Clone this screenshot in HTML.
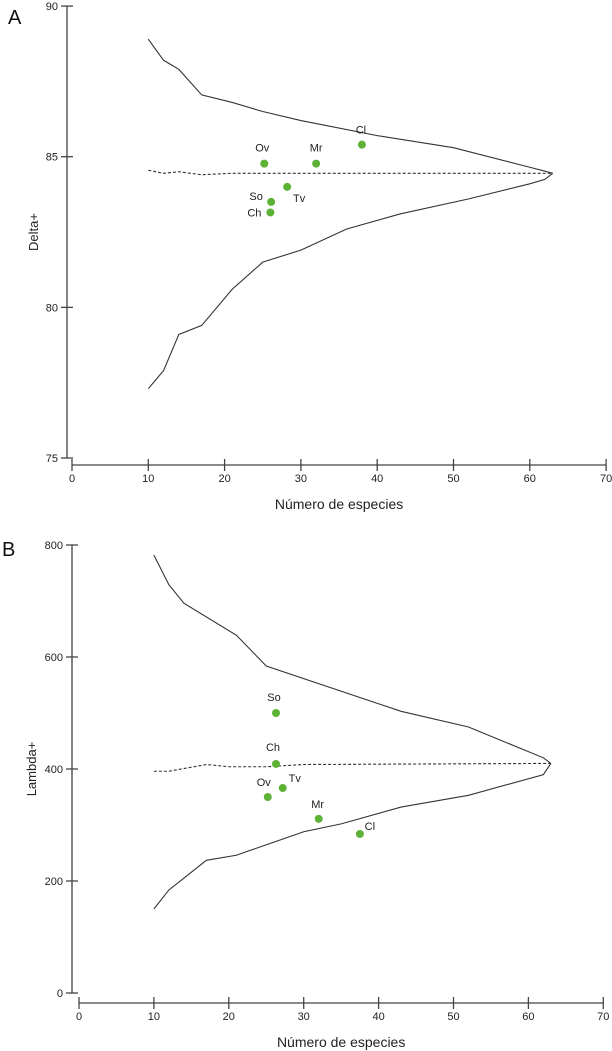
<!DOCTYPE html>
<html><head><meta charset="utf-8"><style>
html,body{margin:0;padding:0;background:#fff;}
svg{display:block;font-family:"Liberation Sans",Arial,sans-serif;}
</style></head><body>
<svg id="chart" width="612" height="1051" viewBox="0 0 612 1051"></svg>
<script>
// Panel A data
const aUpperX=[10,12,14,17,21,25,30,40,50,60,62,63];
const aUpperY=[88.9,88.2,87.9,87.05,86.8,86.5,86.2,85.7,85.3,84.65,84.52,84.45];
const aLowerX=[10,12,14,17,21,25,30,36,43,52,60,62,63];
const aLowerY=[77.3,77.9,79.1,79.4,80.6,81.5,81.9,82.6,83.1,83.6,84.1,84.25,84.45];
const aMeanX=[10,12,14,17,21,30,63];
const aMeanY=[84.55,84.45,84.5,84.4,84.45,84.45,84.45];
const aPtNames=["Ov","Mr","Cl","Tv","So","Ch"];
const aPtX=[25.2,32,38,28.2,26.1,26];
const aPtY=[84.77,84.77,85.4,84.0,83.5,83.15];
const aYTicks=[75,80,85,90];
// Panel B data
const bUpperX=[10,12,14,21,25,43,52,62,63];
const bUpperY=[782,729,696,639,584,503,475,420,410];
const bLowerX=[10,12,14,17,21,30,35,43,52,62,63];
const bLowerY=[150,184,205,237,246,288,302,332,353,390,410];
const bMeanX=[10,12,17,20,25,30,63];
const bMeanY=[396,396,408,404,404,408,410];
const bPtNames=["So","Ch","Tv","Ov","Mr","Cl"];
const bPtX=[26.3,26.3,27.2,25.2,32,37.5];
const bPtY=[500,409,366,350,311,284];
const bYTicks=[0,200,400,600,800];
const xTicks=[0,10,20,30,40,50,60,70];

const NS="http://www.w3.org/2000/svg";
const svg=document.getElementById('chart');
function el(tag,attrs,parent){const e=document.createElementNS(NS,tag);for(const k in attrs)e.setAttribute(k,attrs[k]);(parent||svg).appendChild(e);return e;}

function panel(cfg){
  const g=el('g',{});
  
  
  const sx=v=>cfg.x0+v*cfg.xs;
  const sy=v=>cfg.yBot-(v-cfg.yMin)*cfg.ys;
  const L=el('text',{x:cfg.letterX,y:cfg.letterY,'font-size':20,fill:'#111'},g);L.textContent=cfg.letter;
  
  
  const ya=el('line',{x1:cfg.yAxisX,x2:cfg.yAxisX,y1:sy(cfg.yTicks[0]),y2:sy(cfg.yTicks[cfg.yTicks.length-1]),stroke:'#444','stroke-width':1.3},g);
  
  
  cfg.yTicks.forEach(t=>{
    el('line',{x1:cfg.yAxisX-6,x2:cfg.yAxisX+6,y1:sy(t),y2:sy(t),stroke:'#444','stroke-width':1.3},g);
    const tx=el('text',{x:cfg.yAxisX-9,y:sy(t)+4,'font-size':11,'text-anchor':'end',fill:'#222'},g);tx.textContent=t;
    
    
  });
  const my=(sy(cfg.yTicks[0])+sy(cfg.yTicks[cfg.yTicks.length-1]))/2;
  const yt=el('text',{x:cfg.yTitleX,y:my,'font-size':13,'text-anchor':'middle',fill:'#222',transform:`rotate(-90 ${cfg.yTitleX} ${my})`},g);
  yt.textContent=cfg.yTitle;
  
  
  const xa=el('line',{x1:sx(0),x2:sx(70),y1:cfg.xAxisY,y2:cfg.xAxisY,stroke:'#444','stroke-width':1.3},g);
  
  
  xTicks.forEach(t=>{
    el('line',{x1:sx(t),x2:sx(t),y1:cfg.xAxisY-6,y2:cfg.xAxisY+6,stroke:'#444','stroke-width':1.3},g);
    const tx=el('text',{x:sx(t),y:cfg.xAxisY+17,'font-size':11,'text-anchor':'middle',fill:'#222'},g);tx.textContent=t;
    
    
  });
  const xt=el('text',{x:(sx(0)+sx(70))/2,y:cfg.xAxisY+44,'font-size':14,'text-anchor':'middle',fill:'#222'},g);
  xt.textContent='Número de especies';
  
  
  function line(xs,ys,name,dash){
    const p=el('polyline',{points:xs.map((x,i)=>sx(x)+','+sy(ys[i])).join(' '),fill:'none',stroke:'#333','stroke-width':1.1},g);
    if(dash)p.setAttribute('stroke-dasharray','3,2');
    
    
  }
  line(cfg.ux,cfg.uy,cfg.id+'-upper-limit',false);
  line(cfg.lx,cfg.ly,cfg.id+'-lower-limit',false);
  line(cfg.mx,cfg.my,cfg.id+'-mean-line',true);
  cfg.names.forEach((n,i)=>{
    const c=el('circle',{cx:sx(cfg.px[i]),cy:sy(cfg.py[i]),r:4,fill:'#5db135'},g);
    
    
    const o=cfg.lab[n];
    const t=el('text',{x:sx(cfg.px[i])+o[0],y:sy(cfg.py[i])+o[1],'font-size':11,'text-anchor':'middle',fill:'#222'},g);
    t.textContent=n;
    
    
  });
}

panel({id:'delta',letter:'A',letterX:8,letterY:24,x0:72,xs:7.63,yMin:75,yBot:458,ys:30.13,yAxisX:67,xAxisY:465,yTitleX:38,
  yTicks:aYTicks,yTitle:'Delta+',ux:aUpperX,uy:aUpperY,lx:aLowerX,ly:aLowerY,mx:aMeanX,my:aMeanY,
  names:aPtNames,px:aPtX,py:aPtY,
  lab:{Ov:[-2,-12],Mr:[0,-12],Cl:[-1,-11],Tv:[12,15],So:[-15,-2],Ch:[-16,4]}});
panel({id:'lambda',letter:'B',letterX:2,letterY:556,x0:79,xs:7.49,yMin:0,yBot:993,ys:0.56,yAxisX:72,xAxisY:1003,yTitleX:36,
  yTicks:bYTicks,yTitle:'Lambda+',ux:bUpperX,uy:bUpperY,lx:bLowerX,ly:bLowerY,mx:bMeanX,my:bMeanY,
  names:bPtNames,px:bPtX,py:bPtY,
  lab:{So:[-2,-12],Ch:[-3,-13],Tv:[12,-6],Ov:[-4,-11],Mr:[-1,-11],Cl:[10,-4]}});
</script>
</body></html>
